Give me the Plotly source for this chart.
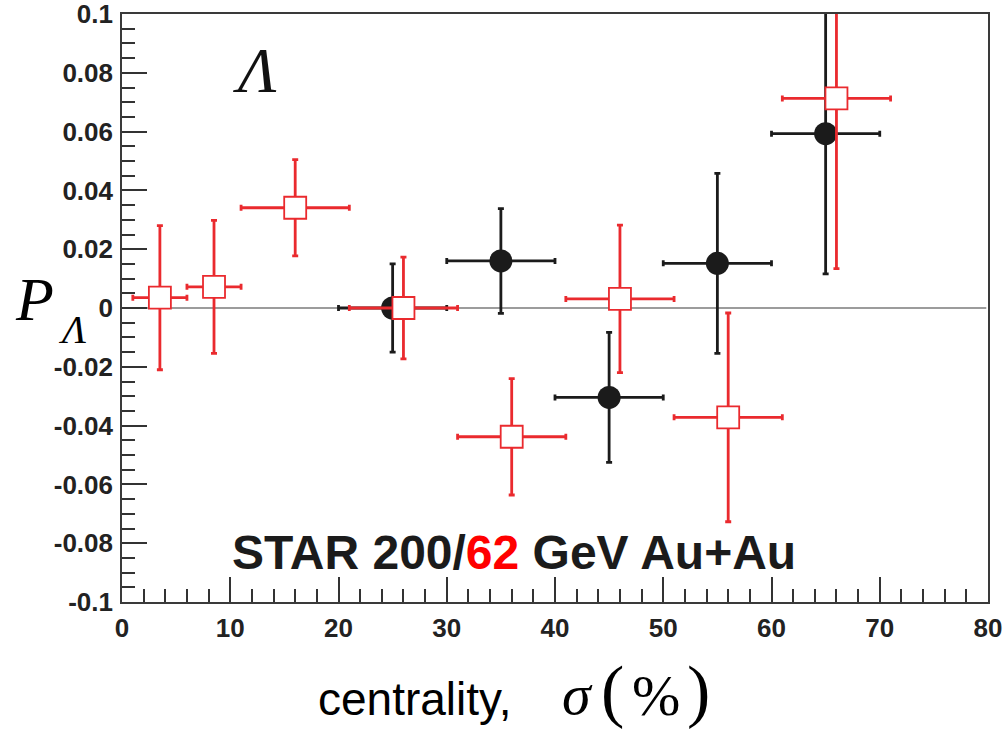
import plotly.graph_objects as go

# 200 GeV (black circles)
x200 = [25, 35, 45, 55, 65]
y200 = [0.0, 0.016, -0.0304, 0.0152, 0.0593]
ey200 = [0.015, 0.0178, 0.0221, 0.0306, 0.0477]
ex200 = [5, 5, 5, 5, 5]

# 62 GeV (red open squares)
x62 = [3.5, 8.5, 16, 26, 36, 46, 56, 66]
y62 = [0.0035, 0.0072, 0.0341, 0.0, -0.0438, 0.0031, -0.0372, 0.0713]
ey62 = [0.0245, 0.0226, 0.0164, 0.0173, 0.0198, 0.0251, 0.0355, 0.0579]
ex62 = [2.5, 2.5, 5, 5, 5, 5, 5, 5]

BLACK = "#1b1b1b"
RED = "#ea2a2e"

fig = go.Figure()

fig.add_trace(go.Scatter(
    x=x200, y=y200, mode="markers", name="200 GeV",
    marker=dict(symbol="circle", size=23, color=BLACK, line=dict(width=0)),
    error_x=dict(type="data", array=ex200, symmetric=True, color=BLACK, thickness=2.8, width=3),
    error_y=dict(type="data", array=ey200, symmetric=True, color=BLACK, thickness=2.8, width=3),
    showlegend=False,
))

fig.add_trace(go.Scatter(
    x=x62, y=y62, mode="markers", name="62 GeV",
    marker=dict(symbol="square", size=22, color="white", line=dict(width=1.8, color=RED)),
    error_x=dict(type="data", array=ex62, symmetric=True, color=RED, thickness=2.8, width=3),
    error_y=dict(type="data", array=ey62, symmetric=True, color=RED, thickness=2.8, width=3),
    showlegend=False,
))

fig.add_shape(type="line", xref="paper", yref="y", x0=0, x1=0.998, y0=0, y1=0,
              line=dict(color="#3a3a3a", width=1.1), layer="below")

tickfont = dict(family="Liberation Sans", size=26, color="#222222", weight="bold")

fig.update_xaxes(
    range=[0, 80], tickvals=[0, 10, 20, 30, 40, 50, 60, 70, 80],
    ticks="inside", ticklen=25, tickwidth=1.5, tickcolor="#333333",
    minor=dict(ticks="inside", ticklen=13, dtick=2, tick0=0, tickwidth=1.5, tickcolor="#333333", showgrid=False),
    showline=True, linecolor="#3a3a3a", linewidth=1.6, mirror=True,
    showgrid=False, zeroline=False, tickfont=tickfont, automargin=False, ticklabelstandoff=2,
    ticklabeloverflow="allow",
)
fig.update_yaxes(
    range=[-0.1, 0.1], tickvals=[-0.1, -0.08, -0.06, -0.04, -0.02, 0, 0.02, 0.04, 0.06, 0.08, 0.1],
    ticktext=["-0.1", "-0.08", "-0.06", "-0.04", "-0.02", "0", "0.02", "0.04", "0.06", "0.08", "0.1"],
    ticks="inside", ticklen=25, tickwidth=1.5, tickcolor="#333333",
    minor=dict(ticks="inside", ticklen=13, dtick=0.005, tick0=0, tickwidth=1.5, tickcolor="#333333", showgrid=False),
    showline=True, linecolor="#3a3a3a", linewidth=1.6, mirror=True,
    showgrid=False, zeroline=False, tickfont=tickfont, ticklabelstandoff=2, automargin=False,
    ticklabeloverflow="allow",
)

W, H = 1006, 731
L, R, T, B = 122, 18, 14, 129
pw, ph = W - L - R, H - T - B
def px(xp):
    return (xp - L) / pw
def py(yp):
    return (H - B - yp) / ph

fig.update_layout(
    width=W, height=H,
    margin=dict(l=L, r=R, t=T, b=B, autoexpand=False),
    plot_bgcolor="white", paper_bgcolor="white",
)

def ann(x, y, text, family, size, color="#000000", weight="normal"):
    fig.add_annotation(xref="paper", yref="paper", x=px(x), y=py(y), xanchor="center", yanchor="middle",
                       text=text, showarrow=False,
                       font=dict(family=family, size=size, color=color, weight=weight))

# in-plot labels
ann(514, 552, 'STAR 200/<span style="color:#ff0000">62</span> GeV Au+Au', "Liberation Sans", 48, "#1b1b1b", "bold")
ann(255, 70, "<i>Λ</i>", "Liberation Serif", 64, "#111111")

# y-axis title P_Λ
ann(34, 299, "<i>P</i>", "Liberation Serif", 62)
ann(72, 330, "<i>Λ</i>", "Liberation Serif", 40)

# x-axis title: centrality, σ(%)
ann(414, 699, "centrality,", "Liberation Sans", 46)
ann(577, 694, "<i>σ</i>", "Liberation Serif", 58)
ann(612, 690, "(", "Liberation Serif", 70)
ann(656, 695, "%", "Liberation Serif", 58)
ann(698, 690, ")", "Liberation Serif", 70)

fig.write_html("out.html")
